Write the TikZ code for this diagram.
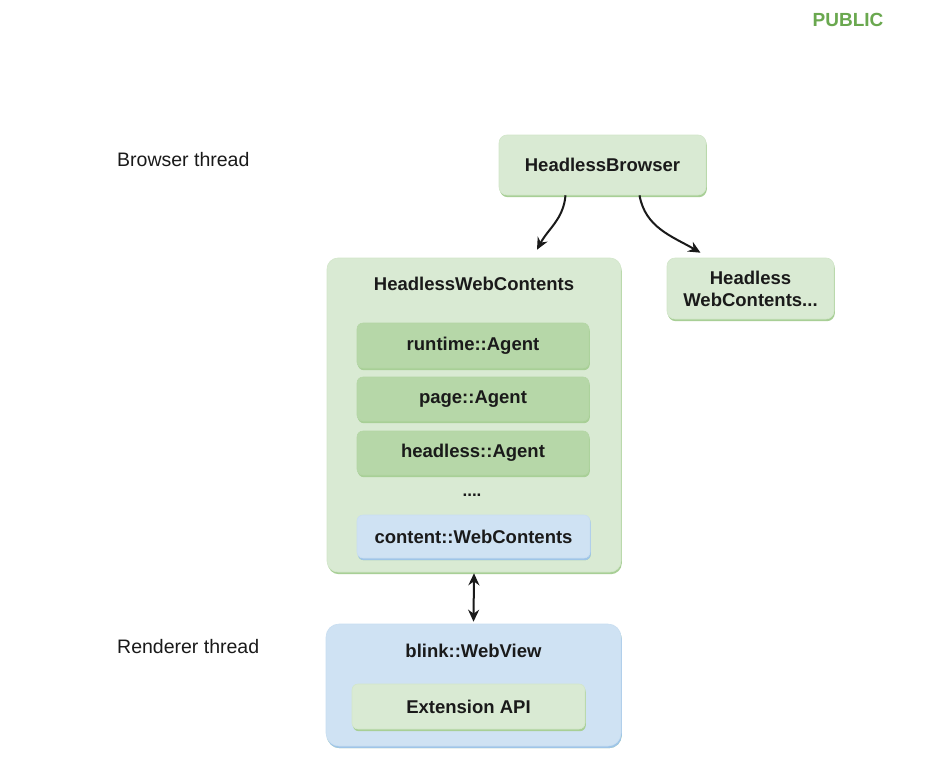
\documentclass[tikz,border=0pt]{standalone}
\usepackage{fontspec}
\setmainfont{Liberation Sans}
\usepackage{tikz}
\usetikzlibrary{arrows.meta,shadows}
\definecolor{lgreen}{HTML}{D9EAD3}
\definecolor{mgreen}{HTML}{B6D7A8}
\definecolor{sgreen}{HTML}{A8CF96}
\definecolor{lblue}{HTML}{CFE2F3}
\definecolor{sblue}{HTML}{9FC5E8}
\definecolor{pubgreen}{HTML}{6AA84F}
\definecolor{ink}{HTML}{1A1A1A}

\begin{document}
\begin{tikzpicture}[x=1pt,y=1pt,
    box/.style={rounded corners=8pt, fill=lgreen, draw=lgreen!85!sgreen, line width=0.6pt,
                drop shadow={shadow xshift=0.8pt,shadow yshift=-2.2pt,fill=sgreen,opacity=1},
                font=\fontsize{18.5}{22}\selectfont\bfseries, text=ink, align=center, inner sep=0pt},
    agent/.style={box, fill=mgreen, draw=mgreen!85!sgreen, rounded corners=6pt},
    bluebox/.style={box, fill=lblue, draw=lblue!85!sblue,
                drop shadow={shadow xshift=0.8pt,shadow yshift=-2.2pt,fill=sblue,opacity=1}},
    title/.style={font=\fontsize{18.5}{22}\selectfont\bfseries, text=ink, inner sep=0pt},
    thread/.style={font=\fontsize{19.5}{22}\selectfont, text=ink, anchor=west, inner sep=0pt},
    flow/.style={line width=2pt, ink, -{Stealth[length=12pt,width=11pt]}}]
  \useasboundingbox [fill=white] (0,0) rectangle (949,-760);
  \node (pub) at (848,-20) {\fontsize{19}{22}\selectfont\bfseries\color{pubgreen}PUBLIC};
  \node [thread] (bt) at (117,-160) {Browser thread};
  \node [thread] (rt) at (117,-647) {Renderer thread};
  \node [box, minimum width=207pt, minimum height=60pt] (hb) at (602.5,-165) {HeadlessBrowser};
  \node [box, rounded corners=11pt, minimum width=294pt, minimum height=314pt] (hwc) at (474,-415) {};
  \node [title] (hwct) at (474,-284) {HeadlessWebContents};
  \node [box, minimum width=167pt, minimum height=61pt] (hwc2) at (750.5,-288.5) {Headless\\WebContents...};
  \node [agent, minimum width=232pt, minimum height=45pt] (rta) at (473,-345.5) {runtime::Agent};
  \node [agent, minimum width=232pt, minimum height=44pt] (pga) at (473,-399) {page::Agent};
  \node [agent, minimum width=232pt, minimum height=44pt] (hla) at (473,-453) {headless::Agent};
  \node [title, font=\fontsize{17}{19}\selectfont\bfseries] (dots) at (472,-495) {....};
  \node [bluebox, rounded corners=6pt, minimum width=233pt, minimum height=43pt] (cwc) at (473.5,-536.5) {content::WebContents};
  \node [bluebox, rounded corners=13pt, minimum width=295pt, minimum height=122pt] (bwv) at (473.5,-685) {};
  \node [title] (bwvt) at (473.5,-651) {blink::WebView};
  \node [box, rounded corners=6pt, minimum width=233pt, minimum height=45pt] (ext) at (468.5,-706.5) {Extension API};
  \draw [flow] ([xshift=-37pt]hb.south) to [out=-95,in=62] ([xshift=63pt,yshift=8pt]hwc.north);
  \draw [flow] ([xshift=37pt]hb.south) to [out=-80,in=150] ([xshift=-50pt,yshift=5pt]hwc2.north);
  \draw [flow, {Stealth[length=12pt,width=11pt]}-{Stealth[length=12pt,width=11pt]}] ([yshift=-1pt]hwc.south) -- ([yshift=2pt]bwv.north);
\end{tikzpicture}
\end{document}
